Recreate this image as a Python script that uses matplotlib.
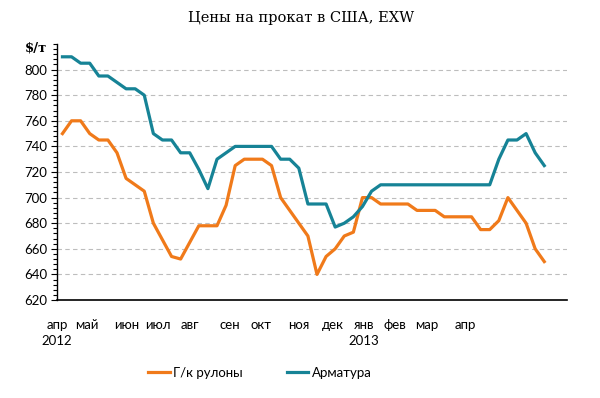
import matplotlib
matplotlib.use("Agg")
import matplotlib.pyplot as plt
from matplotlib.ticker import MultipleLocator, FixedLocator

# Weekly prices, $/t (Apr 2012 - Apr 2013)
hrc = [750, 760, 760, 750, 745, 745, 735, 715, 710, 705,
       680, 667, 654, 652, 665, 678, 678, 678, 694, 725,
       730, 730, 730, 725, 700, 690, 680, 670, 640, 654,
       660, 670, 673, 700, 700, 695, 695, 695, 695, 690,
       690, 690, 685, 685, 685, 685, 675, 675, 682, 700,
       690, 680, 660, 650]
rebar = [810, 810, 805, 805, 795, 795, 790, 785, 785, 780,
         750, 745, 745, 735, 735, 722, 707, 730, 735, 740,
         740, 740, 740, 740, 730, 730, 723, 695, 695, 695,
         677, 680, 685, 693, 705, 710, 710, 710, 710, 710,
         710, 710, 710, 710, 710, 710, 710, 710, 730, 745,
         745, 750, 735, 725]

month_labels = ["апр\n2012", "май", "июн", "июл", "авг", "сен", "окт",
                "ноя", "дек", "янв\n2013", "фев", "мар", "апр"]
month_pos = [-0.6, 2.7, 7.1, 10.5, 14.0, 18.4, 21.8, 26.0, 29.7, 33.2,
             36.6, 40.1, 44.3]

series_names = ["Г/к рулоны", "Арматура"]
colors = ["#F07A1A", "#168396"]

fig = plt.figure(figsize=(6.0, 3.98), dpi=100)
ax = fig.add_axes([57/600, 1-300/398, 510/600, 256/398])

x = list(range(len(hrc)))
ax.plot(x, hrc, color=colors[0], lw=2.3, solid_joinstyle="round", label=series_names[0], zorder=3)
ax.plot(x, rebar, color=colors[1], lw=2.3, solid_joinstyle="round", label=series_names[1], zorder=3)

ax.set_xlim(-0.5, 55.5)
ax.set_ylim(620, 820)

tickfont = "Lato"
ax.yaxis.set_major_locator(FixedLocator(list(range(620, 801, 20))))
ax.yaxis.set_minor_locator(MultipleLocator(4))
ax.tick_params(axis="y", which="major", length=4, width=0.8, labelsize=9.5, pad=3, colors="black")
ax.tick_params(axis="y", which="minor", length=3, width=0.8)
for lab in ax.get_yticklabels():
    lab.set_fontfamily(tickfont)

for v in range(640, 801, 20):
    ax.axhline(v, color="#BDBDBD", lw=0.8, ls=(0, (4, 3)), zorder=1)

ax.set_xticks(month_pos)
ax.set_xticklabels(month_labels, fontsize=9.5, fontfamily=tickfont, linespacing=1.35)
ax.tick_params(axis="x", length=0, pad=14)

for s in ["top", "right"]:
    ax.spines[s].set_visible(False)
ax.spines["left"].set_linewidth(1.0)
ax.spines["bottom"].set_linewidth(1.2)

fig.text(25/600, 1-48/398, "$/т", fontsize=9.5, fontweight="bold", fontfamily="DejaVu Serif",
         va="center", ha="left")

fig.text(301/600, 1-18/398, "Цены на прокат в США, EXW", fontsize=10.5,
         fontfamily="DejaVu Serif", ha="center", va="center")

leg = fig.legend(loc="center", bbox_to_anchor=(260/600, 1-373/398), ncol=2, frameon=False,
                 prop={"family": tickfont, "size": 9.5}, handlelength=1.65,
                 handletextpad=0.25, columnspacing=3.3)

fig.savefig("out.png", dpi=100)
